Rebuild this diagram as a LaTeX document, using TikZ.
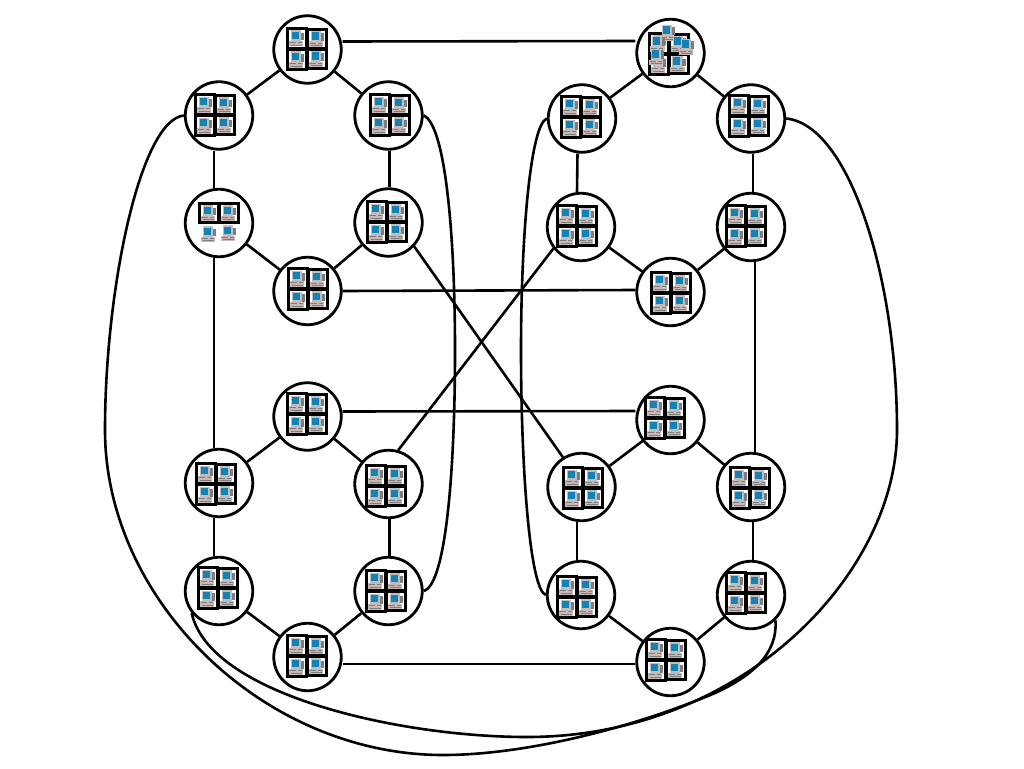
\documentclass[tikz,border=0pt]{standalone}
\definecolor{scr}{RGB}{20,130,180}
\definecolor{mon}{RGB}{190,190,190}
\definecolor{sidec}{RGB}{125,125,125}
\definecolor{basec}{RGB}{200,185,182}
\tikzset{
  x=1pt,y=-1pt,
  hub/.style={circle,draw=black,line width=2.8pt,fill=white,minimum size=67.5pt,inner sep=0pt},
  link/.style={draw=black,line width=2.6pt},
  pcbare/.pic={
    \fill[mon] (-6.5,-8) rectangle (4,2.5);
    \fill[sidec] (4,-5.5) rectangle (7,2);
    \fill[scr] (-5.2,-6.5) rectangle (2.4,0.8);
    \fill[basec] (-8,2.5) rectangle (6,8);
    \fill[sidec] (-7,3.6) rectangle (-1,4.8);
    \draw[sidec,line width=.8pt] (-6,6.6) -- (5,6.6) (1,4) -- (5,4);
  },
  pcframed/.pic={
    \draw[black,line width=2.9pt,fill=white] (-9.6,-9.8) rectangle (9.6,9.8);
    \pic at (0,0) {pcbare};
  },
  pcblock/.pic={
    \pic at (-10,-10.5) {pcframed};
    \pic at (10,-10) {pcframed};
    \pic at (-10,10.5) {pcframed};
    \pic at (10,10) {pcframed};
  }
}
\begin{document}
\begin{tikzpicture}
\useasboundingbox (0,0) rectangle (1024,768);
% hubs, left upper ring
\node[hub] (a1) at (307.5,49.5) {};
\node[hub] (a2) at (219,115.5) {};
\node[hub] (a3) at (388.5,115.5) {};
\node[hub] (a4) at (219,223) {};
\node[hub] (a5) at (388.5,222.5) {};
\node[hub] (a6) at (307.5,291) {};
% right upper ring
\node[hub] (b1) at (670.5,53) {};
\node[hub] (b2) at (582,118.5) {};
\node[hub] (b3) at (751,118.5) {};
\node[hub] (b4) at (581,227) {};
\node[hub] (b5) at (751,227) {};
\node[hub] (b6) at (670.5,292) {};
% left lower ring
\node[hub] (c1) at (307.5,416.5) {};
\node[hub] (c2) at (219,483) {};
\node[hub] (c3) at (388.5,484) {};
\node[hub] (c4) at (219,591) {};
\node[hub] (c5) at (388.5,591) {};
\node[hub] (c6) at (307.5,657) {};
% right lower ring
\node[hub] (d1) at (670.5,420) {};
\node[hub] (d2) at (581.5,487) {};
\node[hub] (d3) at (751,487) {};
\node[hub] (d4) at (581,595) {};
\node[hub] (d5) at (751,595) {};
\node[hub] (d6) at (670.5,662) {};
% ring links
\draw[link] (a1) -- (a2) (a1) -- (a3) (a4) -- (a6) (a5) -- (a6);
\draw[link] (b1) -- (b2) (b1) -- (b3) (b4) -- (b6) (b5) -- (b6);
\draw[link] (c1) -- (c2) (c1) -- (c3) (c4) -- (c6) (c5) -- (c6);
\draw[link] (d1) -- (d2) (d1) -- (d3) (d4) -- (d6) (d5) -- (d6);
% vertical links
\draw[link] ([xshift=-5]a2.south) -- ([xshift=-5]a4.north);
\draw[link] ([xshift=1]a3.south) -- ([xshift=1]a5.north);
\draw[link] ([xshift=-5]a4.south) -- ([xshift=-5]c2.north);
\draw[link] ([xshift=-5]c2.south) -- ([xshift=-5]c4.north);
\draw[link] ([xshift=1]c3.south) -- ([xshift=1]c5.north);
\draw[link] ([xshift=-4.5]b2.south) -- ([xshift=-4]b4.north);
\draw[link] ([xshift=2]b3.south) -- ([xshift=2]b5.north);
\draw[link] ([xshift=4]b5.south) -- ([xshift=4]d3.north);
\draw[link] ([xshift=-4.5]d2.south) -- ([xshift=-4]d4.north);
\draw[link] ([xshift=2]d3.south) -- ([xshift=2]d5.north);
% horizontal links
\draw[link] ([yshift=8]a1.east) -- ([yshift=12]b1.west);
\draw[link] (a6.east) -- ([yshift=2]b6.west);
\draw[link] ([yshift=5]c1.east) -- ([yshift=9]d1.west);
\draw[link] ([yshift=-7]c6.east) -- ([yshift=-2]d6.west);
% crossing links
\draw[link] (a5.-43) -- (d2.122);
\draw[link] (b4.218) -- (c3.74);
% inner curves
\draw[link] (a3.east) .. controls (446,125) and (455,240) .. (455,350) .. controls (455,470) and (446,585) .. (c5.east);
\draw[link] (b2.west) .. controls (530,125) and (521,240) .. (521,350) .. controls (521,470) and (530,590) .. (d4.west);
% outer curves
\draw[link] (a2.west) .. controls (140,120) and (105,290) .. (105,430) .. controls (105,600) and (263,755) .. (443,755) .. controls (530,755) and (640,725) .. (715,693) .. controls (750,677) and (778,655) .. (d5.314);
\draw[link] (b3.east) .. controls (850,125) and (897,280) .. (897,430) .. controls (897,573) and (743,737) .. (527,737) .. controls (400,737) and (210,695) .. (c4.219);
% computers
\pic at (307,49) {pcblock};
\pic at (215,115) {pcblock};
\pic at (390,115) {pcblock};
\pic at (209,213) {pcframed};
\pic at (229,213) {pcframed};
\pic at (209,234) {pcbare};
\pic at (229,233) {pcbare};
\pic at (387,222) {pcblock};
\pic at (308,289) {pcblock};
\pic at (669,54) {pcblock};
\pic at (668,33) {pcbare};
\pic at (658,44) {pcbare};
\pic at (687,47) {pcbare};
\pic at (657,57) {pcbare};
\pic at (678,64) {pcbare};
\pic at (581,117) {pcblock};
\pic at (749,116) {pcblock};
\pic at (577,226) {pcblock};
\pic at (746,226) {pcblock};
\pic at (671,293) {pcblock};
\pic at (307,414) {pcblock};
\pic at (216,484) {pcblock};
\pic at (386,486) {pcblock};
\pic at (218,588) {pcblock};
\pic at (386,591) {pcblock};
\pic at (307,656) {pcblock};
\pic at (665,418) {pcblock};
\pic at (583,488) {pcblock};
\pic at (750,488) {pcblock};
\pic at (577,597) {pcblock};
\pic at (746,593) {pcblock};
\pic at (666,660) {pcblock};
\end{tikzpicture}
\end{document}
